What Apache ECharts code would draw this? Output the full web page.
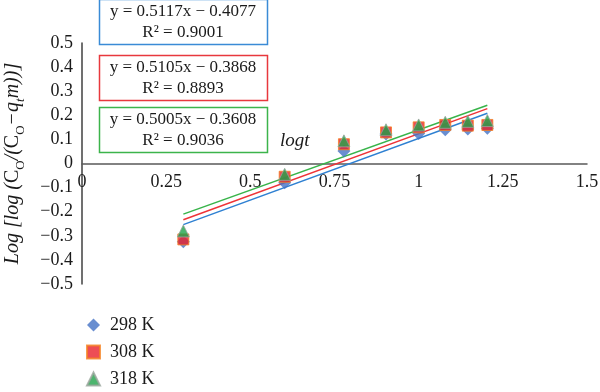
<!DOCTYPE html>
<html>
<head>
<meta charset="utf-8">
<script src="https://cdn.jsdelivr.net/npm/echarts@6/dist/echarts.min.js"></script>
<style>html,body{margin:0;padding:0;background:#fff}#c{width:600px;height:392px}</style>
</head>
<body>
<div id="c"></div>
<script>
const logT = [0.301, 0.602, 0.778, 0.903, 1.0, 1.079, 1.146, 1.204];
const k298 = [-0.325, -0.08, 0.052, 0.122, 0.125, 0.14, 0.143, 0.146];
const k308 = [-0.315, -0.055, 0.08, 0.129, 0.15, 0.16, 0.157, 0.16];
const k318 = [-0.28, -0.045, 0.094, 0.14, 0.16, 0.171, 0.175, 0.178];
const seriesNames = ['298 K', '308 K', '318 K'];
const slopes = [0.5117, 0.5105, 0.5005];
const intercepts = [-0.4077, -0.3868, -0.3608];
const r2 = ['0.9001', '0.8893', '0.9036'];
const xTickLabels = ['0', '0.25', '0.5', '0.75', '1', '1.25', '1.5'];

const FONT = '"Liberation Serif", "DejaVu Serif", serif';
const pointColors = ['#4472C4', '#E8202A', '#1FA34A'];
const lineColors = ['#2F80D2', '#EE3338', '#38B44A'];
const boxColors = ['#3A8BD6', '#E8383D', '#3CB44B'];
const symbols = ['diamond', 'rect', 'triangle'];
const symbolSizes = [[13, 13], [11, 11], [12, 12]];
const values = [k298, k308, k318];

const chart = echarts.init(document.getElementById('c'), null, {renderer: 'canvas'});

const series = [];
for (let i = 0; i < 3; i++) {
  const x0 = logT[0], x1 = logT[logT.length - 1];
  series.push({
    name: seriesNames[i] + ' trend',
    type: 'line',
    data: [[x0, slopes[i] * x0 + intercepts[i]], [x1, slopes[i] * x1 + intercepts[i]]],
    showSymbol: false,
    lineStyle: {color: lineColors[i], width: 1.5},
    z: 2,
    silent: true
  });
}
for (let i = 0; i < 3; i++) {
  series.push({
    name: seriesNames[i],
    type: 'scatter',
    symbol: symbols[i],
    symbolSize: symbolSizes[i],
    data: logT.map((x, j) => [x, values[i][j]]),
    itemStyle: {
      color: pointColors[i],
      borderColor: i === 1 ? '#F58220' : (i === 2 ? '#9aa59c' : pointColors[i]),
      borderWidth: i === 0 ? 0 : 1
    },
    z: 3 + i
  });
}

const graphics = [];
const boxTops = [-1, 55, 107];
for (let i = 0; i < 3; i++) {
  graphics.push({
    type: 'rect',
    shape: {x: 99.5, y: boxTops[i] + 0.5, width: 168, height: 45},
    style: {fill: '#fff', stroke: boxColors[i], lineWidth: 1.5},
    z: 10
  });
  const sign = intercepts[i] < 0 ? ' − ' : ' + ';
  graphics.push({
    type: 'text',
    x: 183, y: boxTops[i] + 23,
    style: {
      text: 'y = ' + slopes[i].toFixed(4) + 'x' + sign + Math.abs(intercepts[i]).toFixed(4) + '\nR² = ' + r2[i],
      font: '17px ' + FONT,
      fill: '#1a1a1a',
      align: 'center',
      verticalAlign: 'middle',
      lineHeight: 21
    },
    z: 11
  });
}
graphics.push({
  type: 'text',
  x: 280, y: 141,
  style: {text: 'logt', font: 'italic 19px ' + FONT, fill: '#1a1a1a', verticalAlign: 'middle'},
  z: 11
});

chart.setOption({
  animation: false,
  backgroundColor: '#fff',
  grid: {left: 82, right: 13, top: 43, bottom: 108, containLabel: false, outerBoundsMode: 'none'},
  legend: {
    data: seriesNames,
    orient: 'vertical',
    left: 81,
    top: 311,
    height: 81,
    itemGap: 9,
    itemWidth: 13,
    itemHeight: 13,
    textStyle: {fontFamily: FONT, fontSize: 18, color: '#1a1a1a', padding: [0, 0, 0, 5]}
  },
  xAxis: {
    type: 'value',
    min: 0, max: 1.5, interval: 0.25,
    offset: -120.5,
    axisLine: {onZero: false, lineStyle: {color: '#595959', width: 1.5}},
    axisTick: {show: false},
    splitLine: {show: false},
    axisLabel: {
      fontFamily: FONT, fontSize: 18, color: '#1a1a1a', margin: 10,
      showMinLabel: true, showMaxLabel: true,
      formatter: (v) => xTickLabels[Math.round(v / 0.25)]
    }
  },
  yAxis: {
    type: 'value',
    min: -0.5, max: 0.5, interval: 0.1,
    axisLine: {show: true, onZero: false, lineStyle: {color: '#404040', width: 1.5}},
    axisTick: {show: false},
    splitLine: {show: false},
    axisLabel: {
      fontFamily: FONT, fontSize: 18, color: '#1a1a1a', margin: 9,
      formatter: (v) => Math.abs(v) < 1e-9 ? '0' : (v < 0 ? '−' : '') + Math.abs(v).toFixed(1)
    },
    name: '{i|Log [log (}{n|C}{s|O}{i|/(}{n|C}{s|O}{i|−q}{si|t}{i|m))]}',
    nameLocation: 'middle',
    nameRotate: 90,
    nameGap: 59,
    nameTextStyle: {
      fontFamily: FONT, fontSize: 20, color: '#1a1a1a',
      rich: {
        i: {fontFamily: FONT, fontSize: 20, fontStyle: 'italic', color: '#1a1a1a', lineHeight: 24, verticalAlign: 'bottom'},
        n: {fontFamily: FONT, fontSize: 20, color: '#1a1a1a', lineHeight: 24, verticalAlign: 'bottom'},
        s: {fontFamily: FONT, fontSize: 13, color: '#1a1a1a', lineHeight: 24, verticalAlign: 'bottom', padding: [0, 0, -4, 0]},
        si: {fontFamily: FONT, fontSize: 13, fontStyle: 'italic', color: '#1a1a1a', lineHeight: 24, verticalAlign: 'bottom', padding: [0, 0, -4, 0]}
      }
    }
  },
  graphic: graphics,
  series: series
});
</script>
</body>
</html>
